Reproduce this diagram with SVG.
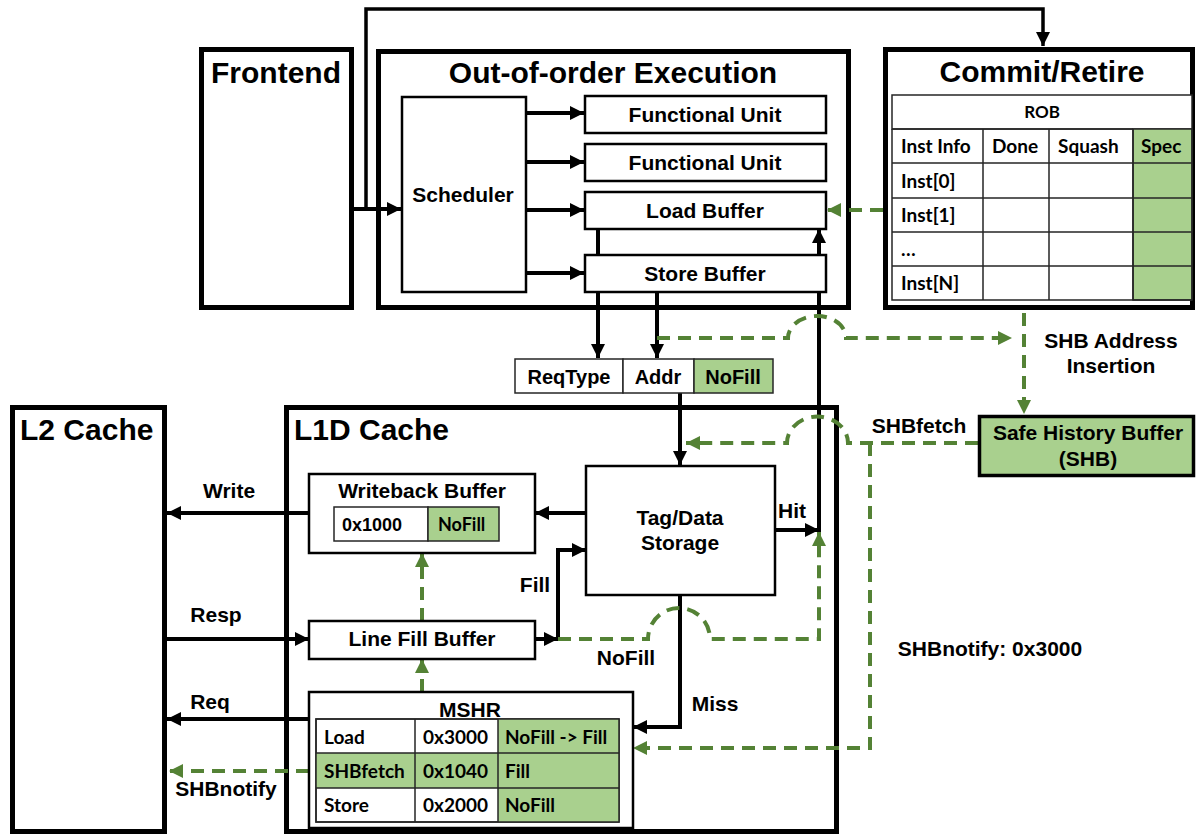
<svg xmlns="http://www.w3.org/2000/svg" width="1196" height="837" viewBox="0 0 1196 837">
<style>
.big{fill:#fff;stroke:#000;stroke-width:5}
.box{fill:#fff;stroke:#000;stroke-width:2.5}
.cell{fill:#fff;stroke:#262626;stroke-width:1.5}
.g{fill:#a9d08e}
.t{font-family:"Liberation Sans",Arial,sans-serif;font-weight:bold;fill:#000}
.c{font-family:Lato,"Liberation Sans",sans-serif;font-weight:bold;fill:#000}
.title{font-size:30px}
.lbl{font-size:21px}
.tb{font-size:19px}
.ln{fill:none;stroke:#000;stroke-width:4}
.dl{fill:none;stroke:#548235;stroke-width:4;stroke-dasharray:13 8}
</style>
<defs>
<marker id="ab" markerUnits="userSpaceOnUse" markerWidth="14" markerHeight="14" refX="14" refY="7" orient="auto"><path d="M0,0 L14,7 L0,14 z" fill="#000"/></marker>
<marker id="ag" markerUnits="userSpaceOnUse" markerWidth="14" markerHeight="14" refX="14" refY="7" orient="auto"><path d="M0,0 L14,7 L0,14 z" fill="#548235"/></marker>
</defs>
<rect width="1196" height="837" fill="#fff"/>

<g id="frontend"><rect class="big" x="201.5" y="49.5" width="150" height="258"/><text class="t title" x="276" y="83" text-anchor="middle">Frontend</text></g>
<g id="ooo"><rect class="big" x="378.5" y="51.5" width="470" height="256"/><text class="t title" x="613" y="83" text-anchor="middle">Out-of-order Execution</text></g>
<g id="commit"><rect class="big" x="885.5" y="49.5" width="307" height="258"/><text class="t title" x="1042" y="82" text-anchor="middle">Commit/Retire</text></g>
<g id="l2"><rect class="big" x="12.5" y="407.5" width="152" height="424"/><text class="t title" x="20" y="440">L2 Cache</text></g>
<g id="l1d"><rect class="big" x="286.5" y="407.5" width="550" height="424"/><text class="t title" x="294" y="440">L1D Cache</text></g>

<g id="connectors">
<path class="ln" d="M353,209 H401" marker-end="url(#ab)"/>
<path class="ln" style="stroke-width:3.5" d="M366,209 V9 H1043 V46" marker-end="url(#ab)"/>
<path class="ln" d="M526,113 H584" marker-end="url(#ab)"/>
<path class="ln" d="M526,162 H584" marker-end="url(#ab)"/>
<path class="ln" d="M526,210 H584" marker-end="url(#ab)"/>
<path class="ln" d="M526,273 H584" marker-end="url(#ab)"/>
<path class="ln" d="M598,229 V358" marker-end="url(#ab)"/>
<path class="ln" d="M657,292 V358" marker-end="url(#ab)"/>
<path class="ln" d="M680,393 V465" marker-end="url(#ab)"/>
<path class="ln" d="M775,530 H819" marker-end="url(#ab)"/>
<path class="ln" d="M819,532 V229" marker-end="url(#ab)"/>
<path class="ln" d="M586,513 H535" marker-end="url(#ab)"/>
<path class="ln" d="M309,513 H167" marker-end="url(#ab)"/>
<path class="ln" d="M167,639 H309" marker-end="url(#ab)"/>
<path class="ln" d="M535,639 H558" marker-end="url(#ab)"/>
<path class="ln" d="M558,641 V550 H586" marker-end="url(#ab)"/>
<path class="ln" d="M680,595 V727 H633" marker-end="url(#ab)"/>
<path class="ln" d="M309,719 H167" marker-end="url(#ab)"/>
<path class="dl" d="M309,771 H169" marker-end="url(#ag)"/>
<path class="dl" d="M422,692 V659" marker-end="url(#ag)"/>
<path class="dl" d="M422,621 V553" marker-end="url(#ag)"/>
<path class="dl" d="M883,210 H827" marker-end="url(#ag)"/>
<path class="dl" d="M657,338 H788 A29,22 0 0 1 846,338 H1012" marker-end="url(#ag)"/>
<path class="dl" d="M1024,313 V414" marker-end="url(#ag)"/>
<path class="dl" d="M978,443 H848 A30,26 0 0 0 787,443 H686" marker-end="url(#ag)"/>
<path class="dl" d="M870,443 V748 H633" marker-end="url(#ag)"/>
<path class="dl" d="M558,639 H648 A31,31 0 0 1 710,639 H819 V532" marker-end="url(#ag)"/>
<text class="t lbl" x="229" y="498" text-anchor="middle">Write</text>
<text class="t lbl" x="216" y="622" text-anchor="middle">Resp</text>
<text class="t lbl" x="210" y="709" text-anchor="middle">Req</text>
<text class="t lbl" x="226" y="796" text-anchor="middle">SHBnotify</text>
<text class="t lbl" x="792" y="518" text-anchor="middle">Hit</text>
<text class="t lbl" x="535" y="592" text-anchor="middle">Fill</text>
<text class="t lbl" x="626" y="665" text-anchor="middle">NoFill</text>
<text class="t lbl" x="715" y="711" text-anchor="middle">Miss</text>
<text class="t lbl" x="919" y="433" text-anchor="middle">SHBfetch</text>
<text class="t lbl" x="990" y="656" text-anchor="middle">SHBnotify: 0x3000</text>
<text class="t lbl" x="1111" y="348" text-anchor="middle">SHB Address</text>
<text class="t lbl" x="1111" y="373" text-anchor="middle">Insertion</text>
</g>

<g id="scheduler"><rect class="box" x="402" y="97" width="124" height="195"/><text class="t" font-size="21" x="463" y="202" text-anchor="middle">Scheduler</text></g>
<g id="fu1"><rect class="box" x="585" y="96" width="241" height="37"/><text class="t" font-size="21" x="705" y="122" text-anchor="middle">Functional Unit</text></g>
<g id="fu2"><rect class="box" x="585" y="144" width="241" height="37"/><text class="t" font-size="21" x="705" y="170" text-anchor="middle">Functional Unit</text></g>
<g id="loadbuf"><rect class="box" x="585" y="192" width="241" height="37"/><text class="t" font-size="21" x="705" y="218" text-anchor="middle">Load Buffer</text></g>
<g id="storebuf"><rect class="box" x="585" y="255" width="241" height="37"/><text class="t" font-size="21" x="705" y="281" text-anchor="middle">Store Buffer</text></g>

<g id="rob">
<rect class="cell" x="892" y="95" width="300" height="34"/>
<rect class="cell g" x="1133" y="129" width="59" height="171"/>
<path d="M892,129 V300 H1133 M892,163 H1192 M892,198 H1192 M892,232 H1192 M892,266 H1192 M892,129 H1133 M983,129 V300 M1049,129 V300 M1133,129 V300 M892,300 H1192 M1192,129 V300" fill="none" stroke="#262626" stroke-width="1.5"/>
<text class="c" font-size="17" x="1042" y="118" text-anchor="middle">ROB</text>
<text class="c tb" x="901" y="153">Inst Info</text>
<text class="c tb" x="992" y="153">Done</text>
<text class="c tb" x="1058" y="153">Squash</text>
<text class="c tb" x="1141" y="153">Spec</text>
<text class="c tb" x="901" y="188">Inst[0]</text>
<text class="c tb" x="901" y="222">Inst[1]</text>
<text class="c tb" x="901" y="256">…</text>
<text class="c tb" x="901" y="290">Inst[N]</text>
</g>

<g id="reqfields">
<rect class="cell" x="515" y="359" width="108" height="34"/>
<rect class="cell" x="623" y="359" width="71" height="34"/>
<rect class="cell g" x="694" y="359" width="79" height="34"/>
<text class="t" font-size="20" x="569" y="384" text-anchor="middle">ReqType</text>
<text class="t" font-size="20" x="658" y="384" text-anchor="middle">Addr</text>
<text class="t" font-size="20" x="733" y="384" text-anchor="middle">NoFill</text>
</g>

<g id="tagdata"><rect class="box" x="586" y="466" width="189" height="129"/><text class="t lbl" x="680" y="525" text-anchor="middle">Tag/Data</text><text class="t lbl" x="680" y="550" text-anchor="middle">Storage</text></g>

<g id="wbbuf"><rect class="box" x="309" y="474" width="226" height="79"/><text class="t lbl" x="422" y="498" text-anchor="middle">Writeback Buffer</text>
<rect class="cell" x="334" y="507" width="94" height="34"/><rect class="cell g" x="428" y="507" width="71" height="34"/>
<text class="t" font-size="18" x="342" y="531">0x1000</text><text class="c" font-size="18" x="438" y="531">NoFill</text></g>

<g id="lfb"><rect class="box" x="309" y="621" width="226" height="38"/><text class="t lbl" x="422" y="646" text-anchor="middle">Line Fill Buffer</text></g>

<g id="mshr"><rect class="box" x="309" y="692" width="324" height="136"/><text class="t lbl" x="470" y="717" text-anchor="middle">MSHR</text>
<rect class="cell" x="316" y="719" width="303" height="103"/>
<rect class="g" x="498" y="719" width="121" height="103"/>
<rect class="g" x="316" y="753" width="182" height="35"/>
<path d="M316,753 H619 M316,788 H619 M415,719 V822 M498,719 V822 M316,719 H619 V822 H316 Z" fill="none" stroke="#262626" stroke-width="1.5"/>
<text class="c tb" x="324" y="744">Load</text><text class="c tb" x="423" y="744">0x3000</text><text class="c tb" x="505" y="744">NoFill -&gt; Fill</text>
<text class="c tb" x="324" y="778">SHBfetch</text><text class="c tb" x="423" y="778">0x1040</text><text class="c tb" x="505" y="778">Fill</text>
<text class="c tb" x="324" y="812">Store</text><text class="c tb" x="423" y="812">0x2000</text><text class="c tb" x="505" y="812">NoFill</text>
</g>

<g id="shb"><rect x="979.5" y="416.5" width="214" height="59" fill="#a9d08e" stroke="#000" stroke-width="3.5"/><text class="t lbl" x="1088" y="440" text-anchor="middle">Safe History Buffer</text><text class="t lbl" x="1088" y="466" text-anchor="middle">(SHB)</text></g>
</svg>
